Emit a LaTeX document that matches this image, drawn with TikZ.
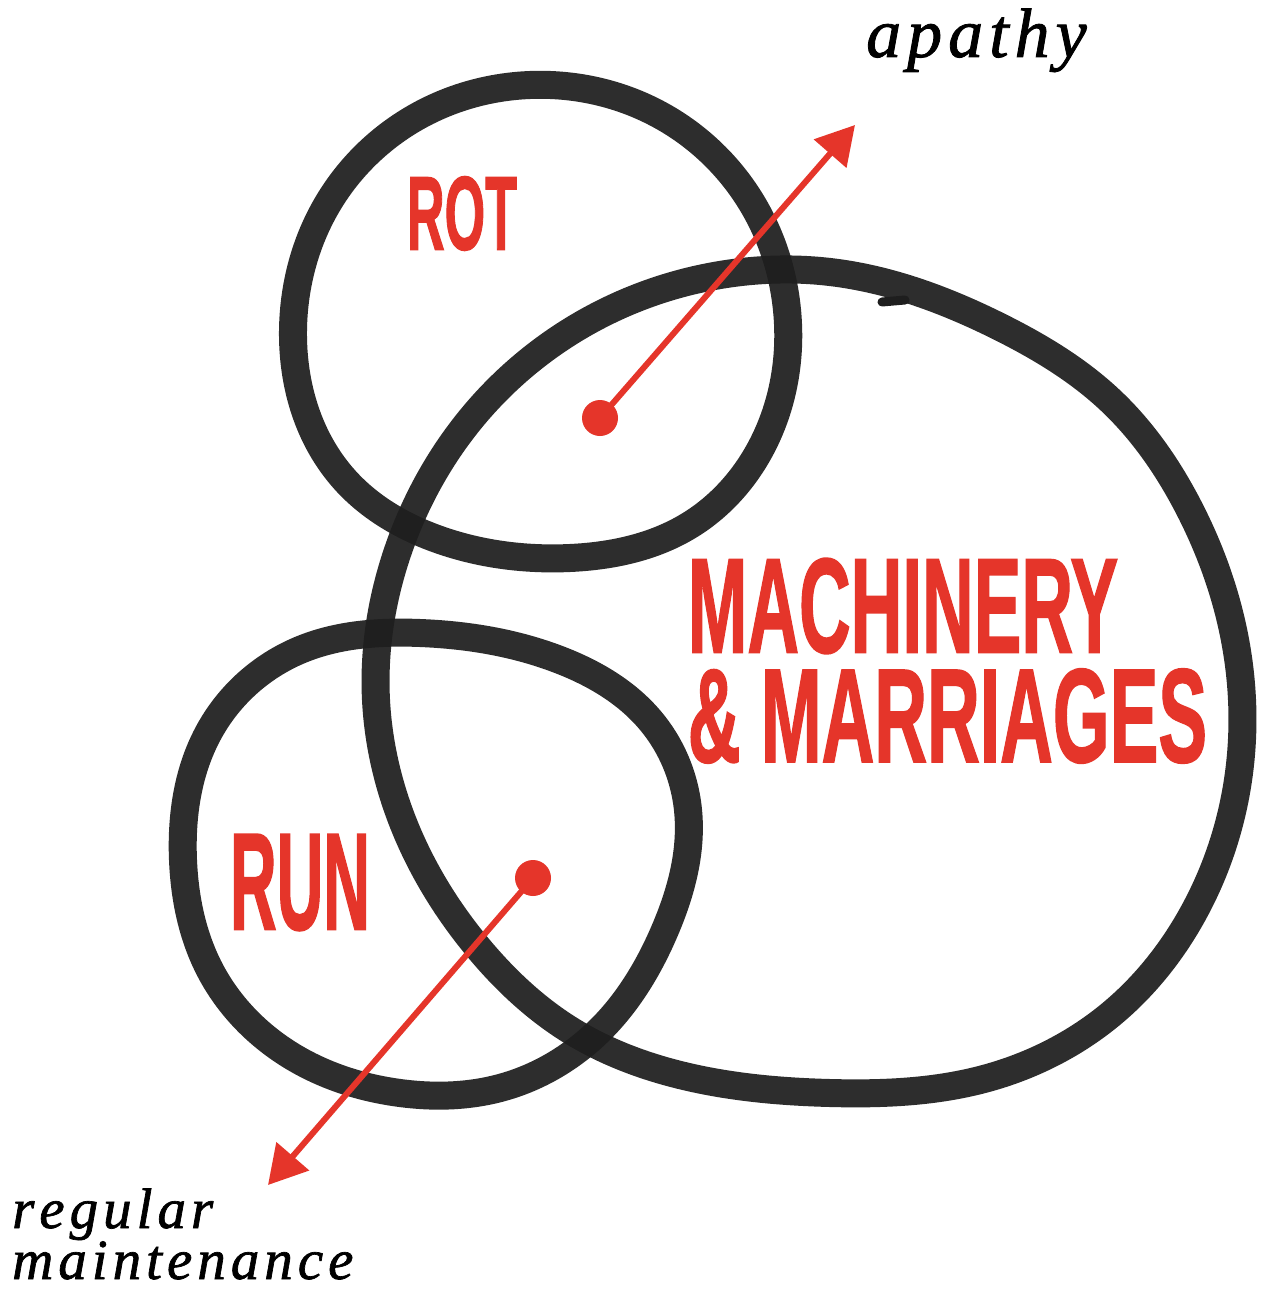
\documentclass[tikz,border=0pt]{standalone}
\usepackage{fontspec}
\usepackage{graphicx}
\usetikzlibrary{arrows.meta,hobby}
\setmainfont{Liberation Serif}[ItalicFeatures={FakeBold=1.2}]
\newfontfamily\capsfont{Liberation Sans}[BoldFeatures={FakeBold=1.5}]
\definecolor{inkred}{HTML}{E5352A}
\definecolor{ink}{HTML}{1E1E1E}
\newcommand\lsk[1]{\kern#1\relax}
\begin{document}
\begin{tikzpicture}[x=1pt,y=-1pt,
  brush/.style={draw=ink, line width=28pt, line cap=round, line join=round, opacity=0.93},
  capslabel/.style={inner sep=0pt, text=inkred, font=\capsfont\bfseries},
  note/.style={inner sep=0pt, anchor=base west, text=black},
  dotnode/.style={circle, fill=inkred, minimum size=36pt, inner sep=0pt},
  pointer/.style={draw=inkred, line width=6pt, -{Triangle[length=38pt,width=42pt]}}]
\fill[white] (0,0) rectangle (1265,1289);
\useasboundingbox (0,0) rectangle (1265,1289);

% ROT circle
\draw[brush] plot[closed hobby] coordinates {
  (293,330) (330,200) (420,115) (530,85) (660,115) (750,200) (787,310)
  (765,440) (690,525) (570,558) (440,540) (345,480)};
% big circle
\draw[brush] plot[closed hobby] coordinates {
  (376,700) (400,545) (470,420) (590,320) (720,275) (830,272) (1000,327)
  (1110,400) (1190,510) (1235,640) (1238,780) (1195,910) (1110,1015)
  (980,1080) (830,1093) (680,1075) (570,1030) (480,950) (415,850)};
\draw[draw=ink, line width=9pt, line cap=round] (882,302) -- (905,300);
% RUN circle
\draw[brush] plot[closed hobby] coordinates {
  (183,860) (210,730) (300,650) (420,633) (560,660) (650,720) (688,810)
  (665,930) (600,1030) (500,1088) (400,1093) (290,1055) (210,970)};

% labels
\node[capslabel] (rot) at (462,213.5) {\resizebox{110pt}{73pt}{ROT}};
\node[capslabel] (run) at (300,882.5) {\resizebox{140pt}{95pt}{RUN}};
\node[capslabel] (mach) at (903,606) {\resizebox{430pt}{94pt}{MACHINERY}};
\node[capslabel] (marr) at (947.5,716) {\resizebox{519pt}{93pt}{\&\ MARRIAGES}};

\node[note, font=\itshape\fontsize{70}{76}\selectfont] (apathy) at (866,57)
  {a\lsk{6pt}p\lsk{6pt}a\lsk{6pt}t\lsk{6pt}h\lsk{6pt}y};
\node[note, font=\itshape\fontsize{57}{62}\selectfont] (regular) at (12,1228)
  {r\lsk{5pt}e\lsk{5pt}g\lsk{5pt}u\lsk{5pt}l\lsk{5pt}a\lsk{5pt}r};
\node[note, font=\itshape\fontsize{57}{62}\selectfont] (maint) at (12,1279)
  {m\lsk{5pt}a\lsk{5pt}i\lsk{5pt}n\lsk{5pt}t\lsk{5pt}e\lsk{5pt}n\lsk{5pt}a\lsk{5pt}n\lsk{5pt}c\lsk{5pt}e};

% arrows
\node[dotnode] (dotrot) at (600,418) {};
\node[dotnode] (dotrun) at (533,878) {};
\coordinate (tipapathy) at (855,125);
\coordinate (tipmaint) at (268,1185);
\draw[pointer] (dotrot.center) -- (tipapathy);
\draw[pointer] (dotrun.center) -- (tipmaint);
\end{tikzpicture}
\end{document}
